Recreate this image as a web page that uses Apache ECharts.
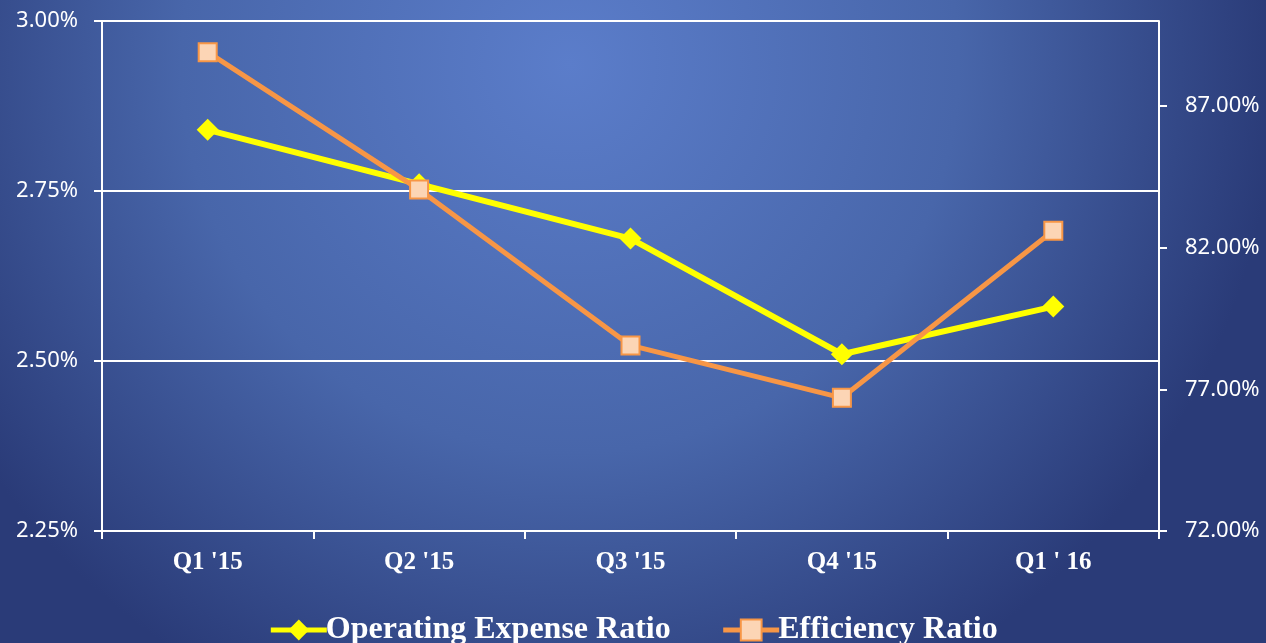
<!DOCTYPE html>
<html>
<head>
<meta charset="utf-8">
<title>Operating Expense Ratio vs Efficiency Ratio</title>
<script src="https://cdn.jsdelivr.net/npm/echarts@6/dist/echarts.min.js"></script>
<style>
  html, body { margin: 0; padding: 0; }
  #chart { width: 1266px; height: 643px; }
</style>
</head>
<body>
<div id="chart"></div>
<script>
// data
const quarters = ["Q1 '15", "Q2 '15", "Q3 '15", "Q4 '15", "Q1 ' 16"];
const opexRatio = [2.84, 2.76, 2.68, 2.51, 2.58];
const efficiencyRatio = [88.9, 84.05, 78.55, 76.7, 82.6];
const rightTicks = [72, 77, 82, 87];

let chart = echarts.init(document.getElementById("chart"));
chart.setOption({
  backgroundColor: {
    type: "radial",
    x: 0.45,
    y: 0.1,
    r: 1.1,
    colorStops: [
      { offset: 0, color: "#5b7dca" },
      { offset: 0.55, color: "#4866aa" },
      { offset: 1, color: "#2a3b78" },
    ],
  },
  grid: {
    left: 102,
    right: 107,
    top: 21,
    bottom: 112,
  },
  legend: {
    bottom: -8,
    left: "center",
    itemWidth: 56,
    itemHeight: 26,
    itemGap: 50,
    lineStyle: { width: 5 },
    textStyle: {
      color: "#ffffff",
      fontFamily: "Liberation Serif",
      fontWeight: "bold",
      fontSize: 32,
      padding: [0, 0, 0, -6],
    },
  },
  xAxis: {
    type: "category",
    data: quarters,
    boundaryGap: true,
    axisLine: { lineStyle: { color: "#ffffff", width: 2 } },
    axisTick: { show: true, length: 8, lineStyle: { color: "#ffffff", width: 2 } },
    axisLabel: {
      color: "#ffffff",
      fontFamily: "Liberation Serif",
      fontWeight: "bold",
      fontSize: 25,
      margin: 19,
    },
  },
  yAxis: [
    {
      type: "value",
      min: 2.25,
      max: 3.0,
      interval: 0.25,
      axisLine: { show: true, lineStyle: { color: "#ffffff", width: 2 } },
      axisTick: { show: true, length: 8, lineStyle: { color: "#ffffff", width: 2 } },
      splitLine: { show: true, lineStyle: { color: "#ffffff", width: 2 } },
      axisLabel: {
        color: "#ffffff",
        fontFamily: "Noto Sans",
        fontSize: 22,
        margin: 24,
        formatter: (v) => v.toFixed(2) + "%",
      },
    },
    {
      type: "value",
      min: 72,
      max: 90,
      position: "right",
      axisLine: { show: true, lineStyle: { color: "#ffffff", width: 2 } },
      axisTick: {
        show: true,
        length: 8,
        customValues: rightTicks,
        lineStyle: { color: "#ffffff", width: 2 },
      },
      splitLine: { show: false },
      axisLabel: {
        color: "#ffffff",
        fontFamily: "Noto Sans",
        fontSize: 22,
        margin: 26,
        customValues: rightTicks,
        formatter: (v) => v.toFixed(2) + "%",
      },
    },
  ],
  series: [
    {
      name: "Operating Expense Ratio",
      type: "line",
      yAxisIndex: 0,
      data: opexRatio,
      symbol: "diamond",
      symbolSize: 22,
      lineStyle: { color: "#ffff00", width: 6 },
      itemStyle: { color: "#ffff00" },
      z: 3,
    },
    {
      name: "Efficiency Ratio",
      type: "line",
      yAxisIndex: 1,
      data: efficiencyRatio,
      symbol: "rect",
      symbolSize: 18,
      lineStyle: { color: "#f79646", width: 5 },
      itemStyle: { color: "#fcd5b5", borderColor: "#f79646", borderWidth: 2 },
      z: 4,
    },
  ],
});
</script>
</body>
</html>
